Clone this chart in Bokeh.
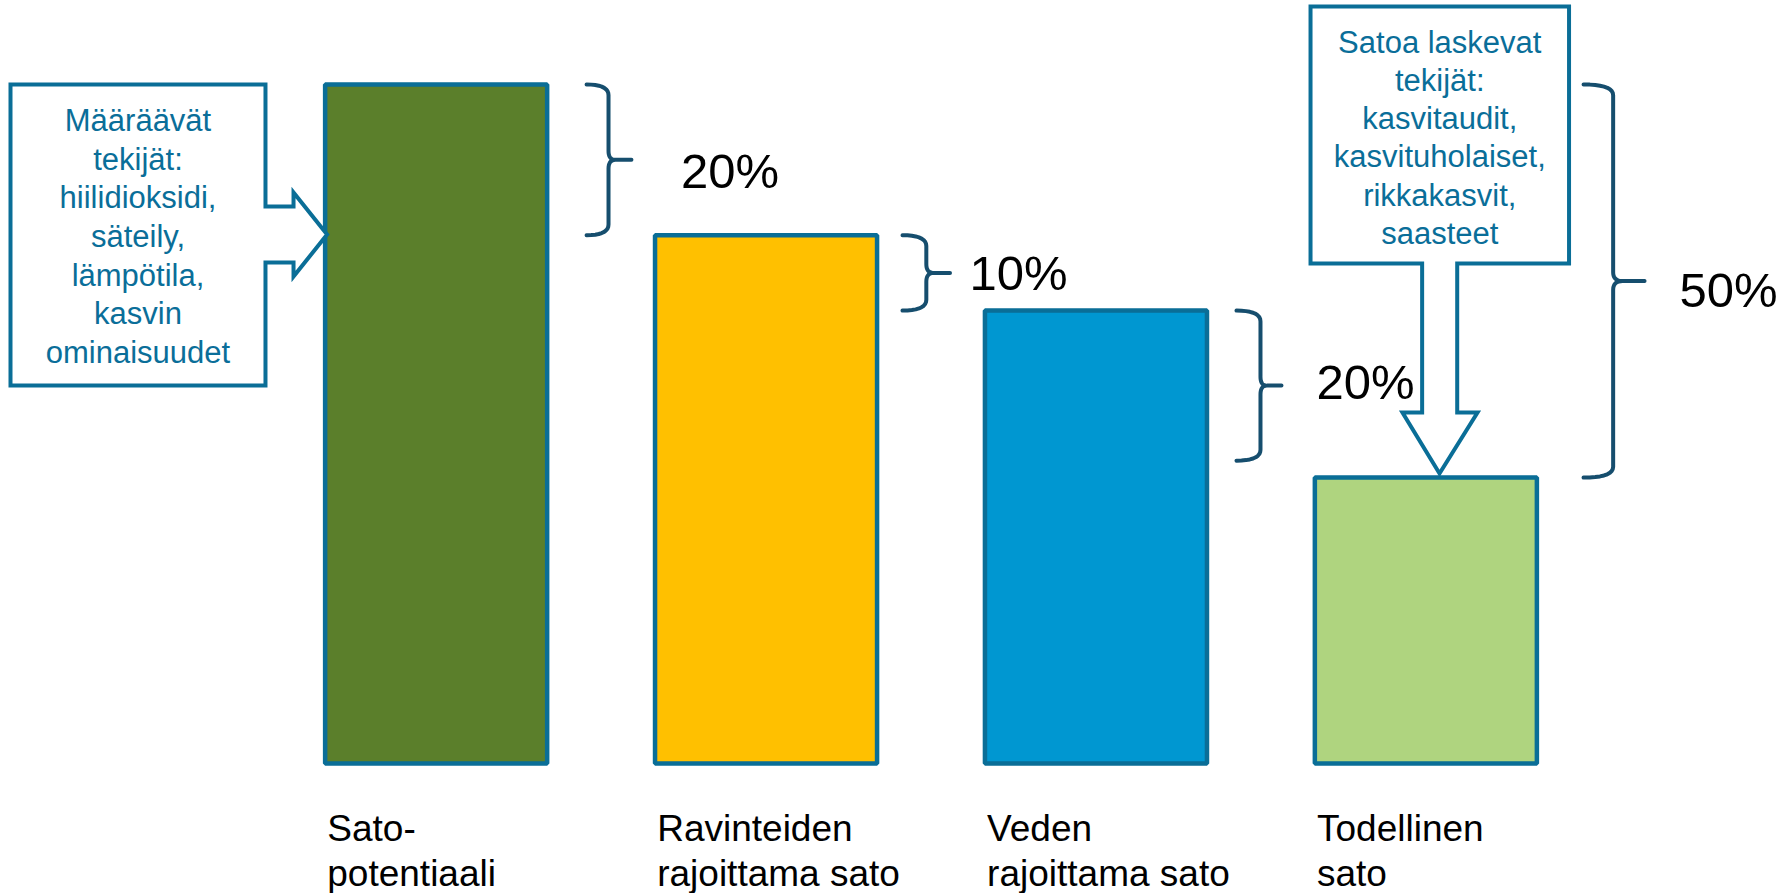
import numpy as np
from bokeh.plotting import figure
from bokeh.models import Range1d, ColumnDataSource
from bokeh.core.properties import value
from bokeh.embed import file_html
from bokeh.resources import INLINE

# ---------------- data ----------------
categories = ["Sato-\npotentiaali", "Ravinteiden\nrajoittama sato",
              "Veden\nrajoittama sato", "Todellinen\nsato"]
values = [100.0, 77.8, 66.7, 42.1]
pct_labels = ["20%", "10%", "20%", "50%"]
left_callout = ["Määräävät", "tekijät:", "hiilidioksidi,", "säteily,",
                "lämpötila,", "kasvin", "ominaisuudet"]
right_callout = ["Satoa laskevat", "tekijät:", "kasvitaudit,",
                 "kasvituholaiset,", "rikkakasvit,", "saasteet"]

# ---------------- styles ----------------
bar_colors = ["#5B7F2B", "#FFC000", "#0097D1", "#AFD47F"]
edge = "#0A6E97"
brace_col = "#164E6E"
callout_txt = "#0A6E99"
FONT = value("Liberation Sans")

p = figure(width=1791, height=893,
           x_range=Range1d(-1.3205, 4.1083), y_range=Range1d(-19.15, 112.37),
           x_axis_location=None, y_axis_location=None,
           toolbar_location=None, output_backend="svg",
           min_border=0, outline_line_color=None)
p.xgrid.visible = False
p.ygrid.visible = False
p.background_fill_color = "white"
p.border_fill_color = "white"

idx = np.arange(len(values))
bw = 0.673
src = ColumnDataSource(dict(x=idx, top=values, color=bar_colors))
p.vbar(x="x", top="top", bottom=0, width=bw, fill_color="color",
       line_color=edge, line_width=4.5, source=src)

# category labels (two lines, left aligned at bar left edge)
l1 = [c.split("\n")[0] for c in categories]
l2 = [c.split("\n")[1] for c in categories]
lx = idx - 0.33
p.text(x=lx, y=[-9.57] * len(l1), text=l1, text_font=FONT, text_font_size="37px",
       text_color="black", text_align="left", text_baseline="middle")
p.text(x=lx, y=[-16.2] * len(l2), text=l2, text_font=FONT, text_font_size="37px",
       text_color="black", text_align="left", text_baseline="middle")


# ---------------- braces ----------------
def qbez(p0, c, p1, n=10):
    t = np.linspace(0, 1, n)
    x = (1 - t) ** 2 * p0[0] + 2 * (1 - t) * t * c[0] + t ** 2 * p1[0]
    y = (1 - t) ** 2 * p0[1] + 2 * (1 - t) * t * c[1] + t ** 2 * p1[1]
    return list(x), list(y)


def brace(x0, x1, x2, ytop, ybot, rye=1.6, rym=1.3):
    ym = (ytop + ybot) / 2
    cx = x1 + (x2 - x1) * 0.3
    xs, ys = [], []
    a, b = qbez((x0, ytop), (x1, ytop), (x1, ytop - rye))
    xs += a; ys += b
    a, b = qbez((x1, ym + rym), (x1, ym), (cx, ym))
    xs += a; ys += b
    xs += [x2, cx]; ys += [ym, ym]
    a, b = qbez((cx, ym), (x1, ym), (x1, ym - rym))
    xs += a; ys += b
    a, b = qbez((x1, ybot + rye), (x1, ybot), (x0, ybot))
    xs += a; ys += b
    return xs, ys


brace_specs = [  # (bar index, offsets x0,x1,x2, top, bottom)
    (0, (0.456, 0.5225, 0.592), values[0], values[1]),
    (1, (0.4136, 0.4858, 0.5576), values[1], values[2]),
    (2, (0.426, 0.4987, 0.5624), values[2], values[3] + 2.5),
    (3, (0.478, 0.5677, 0.6629), values[0], values[3]),
]
for i, (o0, o1, o2), yt, yb in brace_specs:
    xs, ys = brace(i + o0, i + o1, i + o2, yt, yb)
    p.line(xs, ys, line_color=brace_col, line_width=4, line_cap="round", line_join="round")

pct_x = [0.7425, 1.6167, 2.6685, 3.7689]
pct_y = [87.33, 72.17, 56.11, 69.66]
p.text(x=pct_x, y=pct_y, text=pct_labels, text_font=FONT, text_font_size="49px",
       text_color="black", text_align="left", text_baseline="middle")

# ---------------- callouts ----------------
L, R, T, B = -1.2902, -0.5173, values[0], 55.67
tipx = 0 - bw / 2 + 0.006
lx_ = [L, R, R, -0.4323, -0.4323, tipx, -0.4323, -0.4323, R, R, L]
ly_ = [T, T, 82.03, 82.03, 84.09, 77.9, 71.72, 73.78, 73.78, B, B]
p.patch(lx_, ly_, fill_color="white", line_color=edge, line_width=4, line_join="miter")
ltx = (L + R) / 2
p.text(x=[ltx] * len(left_callout), y=[94.70 - 5.695 * k for k in range(len(left_callout))],
       text=left_callout, text_font=FONT, text_font_size="31px", text_color=callout_txt,
       text_align="center", text_baseline="middle")

L2, R2, T2, B2 = 2.6504, 3.434, 111.49, 73.64
rx_ = [L2, R2, R2, 3.095, 3.095, 3.1566, 3.0414, 2.929, 2.9887, 2.9887, L2]
ry_ = [T2, T2, B2, B2, 51.69, 51.69, values[3] + 0.6, 51.69, 51.69, B2, B2]
p.patch(rx_, ry_, fill_color="white", line_color=edge, line_width=4, line_join="miter")
rtx = (L2 + R2) / 2
p.text(x=[rtx] * len(right_callout), y=[106.23 - 5.63 * k for k in range(len(right_callout))],
       text=right_callout, text_font=FONT, text_font_size="31px", text_color=callout_txt,
       text_align="center", text_baseline="middle")

open("out.html", "w").write(file_html(p, INLINE))
